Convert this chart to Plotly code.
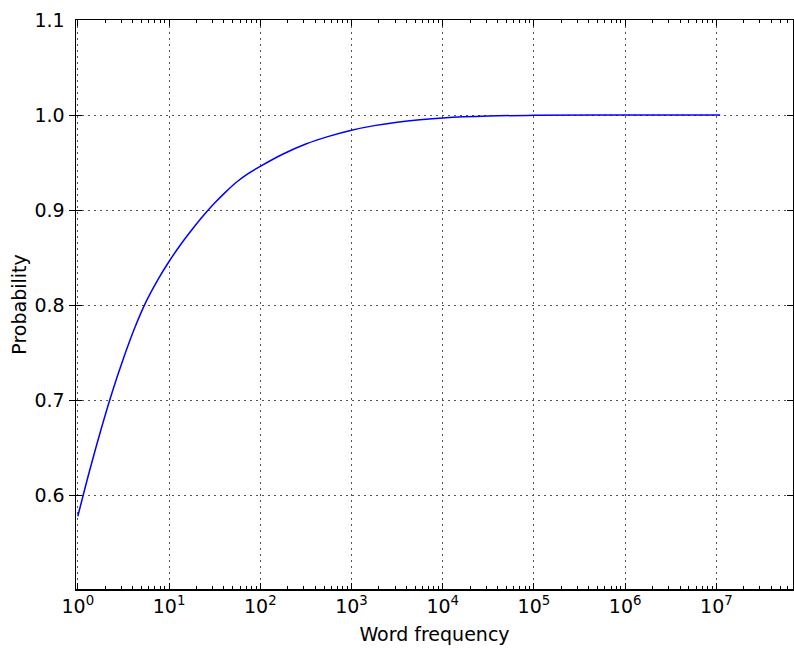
import plotly.graph_objects as go

# Data
word_frequency = [1, 1.33, 1.78, 2.37, 3.16, 4.22, 5.62, 7.5, 10, 13.3, 17.8,
                  23.7, 31.6, 42.2, 56, 75, 100, 178, 316, 562, 1000, 1780,
                  3160, 5620, 10000, 31600, 100000, 1000000, 11000000]
probability = [0.578, 0.624, 0.668, 0.708, 0.744, 0.7765, 0.804, 0.8265,
               0.846, 0.8633, 0.8793, 0.8940, 0.9074, 0.9195, 0.9301, 0.9389,
               0.9461, 0.9591, 0.9696, 0.9776, 0.9841, 0.9889, 0.9925, 0.9951,
               0.9970, 0.9990, 0.9997, 1.0, 1.0]

x_tick_vals = [1, 10, 100, 1000, 10000, 100000, 1000000, 10000000]
x_tick_text = ["10<sup>%d</sup>" % i for i in range(8)]
x_minor_vals = [m * 10 ** k for k in range(8) for m in range(2, 10)]
y_tick_vals = [0.6, 0.7, 0.8, 0.9, 1.0, 1.1]
y_tick_text = ["0.6", "0.7", "0.8", "0.9", "1.0", "1.1"]

X_RANGE = [-0.02, 7.84]

fig = go.Figure()
fig.add_trace(go.Scatter(
    x=word_frequency, y=probability, mode="lines",
    line=dict(color="#0000ff", width=1.5, shape="spline", smoothing=1.0),
    showlegend=False, hoverinfo="skip",
))

FS = 19
font = dict(family="DejaVu Sans", size=FS, color="#000000")
grid_dash = "1.5px,4.5px"
fig.update_layout(
    width=794, height=648,
    margin=dict(l=76, r=1, t=20, b=59),
    paper_bgcolor="white", plot_bgcolor="white",
    font=font,
    xaxis=dict(
        type="log", range=X_RANGE, automargin=False,
        tickmode="array", tickvals=x_tick_vals, ticktext=x_tick_text,
        ticks="inside", ticklen=6, tickwidth=1, tickcolor="black",
        showline=True, linecolor="black", linewidth=1.5, mirror="allticks",
        showgrid=True, gridcolor="#555555", griddash=grid_dash, gridwidth=1,
        zeroline=False,
        title=dict(text="Word frequency", font=dict(size=FS), standoff=11),
        tickfont=dict(size=FS),
    ),
    xaxis2=dict(
        type="log", range=X_RANGE, automargin=False,
        overlaying="x", anchor="y", side="bottom",
        tickmode="array", tickvals=x_minor_vals, showticklabels=False,
        ticks="inside", ticklen=3, tickwidth=1, tickcolor="black",
        showline=False, mirror="allticks", showgrid=False, zeroline=False,
    ),
    yaxis=dict(
        range=[0.5015, 1.1], automargin=False,
        tickmode="array", tickvals=y_tick_vals, ticktext=y_tick_text,
        ticks="inside", ticklen=6, tickwidth=1, tickcolor="black",
        showline=True, linecolor="black", linewidth=1.5, mirror="allticks",
        showgrid=True, gridcolor="#555555", griddash=grid_dash, gridwidth=1,
        zeroline=False,
        title=dict(text="Probability", font=dict(size=FS), standoff=3),
        tickfont=dict(size=FS),
        ticklabelstandoff=6,
    ),
)
# invisible trace so the minor-tick axis is drawn
fig.add_trace(go.Scatter(x=[word_frequency[0]], y=[probability[0]],
                         xaxis="x2", mode="markers", opacity=0,
                         showlegend=False, hoverinfo="skip"))

fig.write_html(
    "out.html",
    config={"displayModeBar": False, "staticPlot": True},
    post_script="document.body.style.margin='0';document.body.style.padding='0';",
)
